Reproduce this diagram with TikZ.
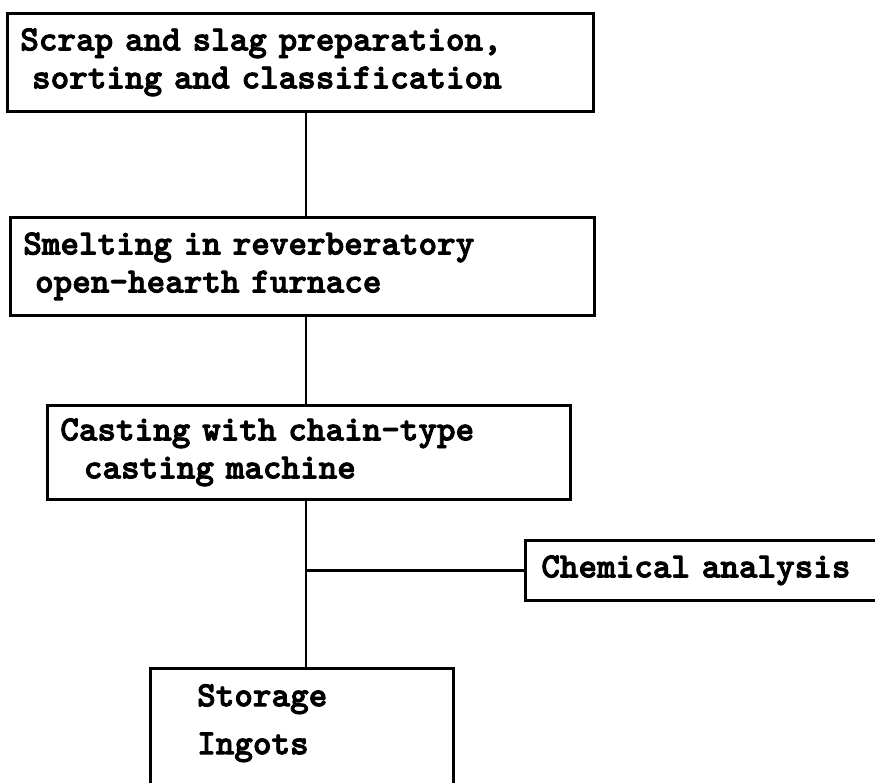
\documentclass[tikz,border=0pt]{standalone}
\usepackage{fontspec}
\newfontfamily\flowtt{lmmonolt10-bold}[Extension=.otf, FakeBold=2.5]
\usetikzlibrary{positioning,calc}

\tikzset{
  stepbox/.style={rectangle, draw, line width=2.6pt, anchor=north west, align=left,
    inner ysep=0pt, inner xsep=13pt,
    font=\flowtt\fontsize{35.4}{38}\selectfont},
  link/.style={line width=2.6pt}
}

\begin{document}
\begin{tikzpicture}[x=1pt,y=-1pt]

\useasboundingbox (0,0) rectangle (875,782);
\clip (0,0) rectangle (875,782);

% process boxes
\node (prep) at (6,12) [stepbox, minimum width=586pt, minimum height=98pt, text width=560pt]
  {Scrap and slag preparation,\\~sorting and classification};
\node (smelt) at (9,216) [stepbox, minimum width=584pt, minimum height=98pt, text width=558pt]
  {Smelting in reverberatory\\~open-hearth furnace};
\node (cast) at (46,404) [stepbox, minimum width=523pt, minimum height=94pt, text width=497pt]
  {Casting with chain-type\\~~casting machine};
\node (chem) at (524,539) [stepbox, inner xsep=16pt, minimum width=400pt, minimum height=60pt, text width=368pt]
  {Chemical analysis};

% storage box runs off the bottom of the page
\node (store) at (149,667) [stepbox, minimum width=303pt, minimum height=160pt] {};
\node (storetext) at ($(store.north west)+(48,17)$) [anchor=north west, align=left, inner sep=0pt,
  font=\flowtt\fontsize{35.4}{48}\selectfont] {Storage\\Ingots};

% main line
\coordinate (spine) at (306,0);
\draw [link] (prep.south -| spine) -- (smelt.north -| spine);
\draw [link] (smelt.south -| spine) -- (cast.north -| spine);
\draw [link] (cast.south -| spine) -- (store.north -| spine);
\draw [link] (chem.west -| spine) -- (chem.west);

\end{tikzpicture}
\end{document}
